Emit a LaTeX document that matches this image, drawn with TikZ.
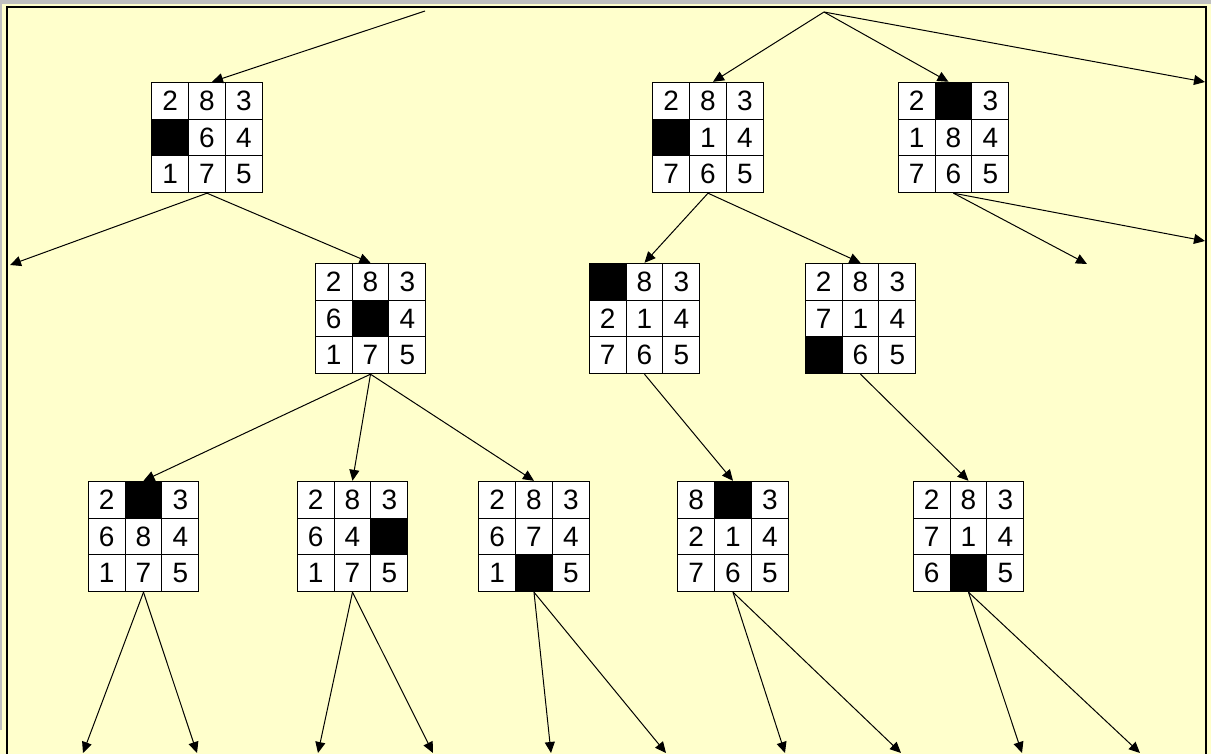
\documentclass[tikz,border=0pt]{standalone}
\usepackage{fontspec}
\setmainfont{Liberation Sans}
\usetikzlibrary{matrix,arrows.meta}
\definecolor{bgyellow}{HTML}{FFFFCC}
\definecolor{framegray}{HTML}{C0C0C0}
\begin{document}
\begin{tikzpicture}[x=1pt,y=-1pt,
  cell/.style={draw=black, line width=1pt, fill=white, minimum size=36.8pt, inner sep=0pt,
    font=\fontsize{28}{32}\selectfont, anchor=center},
  blank/.style={fill=black},
  board/.style={matrix of nodes, nodes={cell}, nodes in empty cells,
    column sep=-1pt, row sep=-1pt, inner sep=0pt, outer sep=0pt},
  edge/.style={draw=black, line width=1pt, -{Triangle[length=11pt,width=10pt]}}]
\useasboundingbox (0,0) rectangle (1211,754);
\fill[bgyellow] (0,0) rectangle (1211,754);
\fill[framegray] (0,0) rectangle (1211,4);
\fill[framegray] (0,0) rectangle (2,730);
\draw[line width=1.3pt] (7,770) -- (7,7) -- (1206,7) -- (1206,770);

% boards
\matrix (A) [board] at (207,137.5) {2 & 8 & 3\\ |[blank]| & 6 & 4\\ 1 & 7 & 5\\};
\matrix (B) [board] at (708,137.5) {2 & 8 & 3\\ |[blank]| & 1 & 4\\ 7 & 6 & 5\\};
\matrix (C) [board] at (953.5,137.5) {2 & |[blank]| & 3\\ 1 & 8 & 4\\ 7 & 6 & 5\\};
\matrix (F) [board] at (370.5,318.5) {2 & 8 & 3\\ 6 & |[blank]| & 4\\ 1 & 7 & 5\\};
\matrix (D) [board] at (644.5,318.5) {|[blank]| & 8 & 3\\ 2 & 1 & 4\\ 7 & 6 & 5\\};
\matrix (E) [board] at (860.5,318.5) {2 & 8 & 3\\ 7 & 1 & 4\\ |[blank]| & 6 & 5\\};
\matrix (G) [board] at (143.5,536.5) {2 & |[blank]| & 3\\ 6 & 8 & 4\\ 1 & 7 & 5\\};
\matrix (H) [board] at (352.5,536.5) {2 & 8 & 3\\ 6 & 4 & |[blank]|\\ 1 & 7 & 5\\};
\matrix (I) [board] at (534,536.5) {2 & 8 & 3\\ 6 & 7 & 4\\ 1 & |[blank]| & 5\\};
\matrix (J) [board] at (733,536.5) {8 & |[blank]| & 3\\ 2 & 1 & 4\\ 7 & 6 & 5\\};
\matrix (K) [board] at (968.5,536.5) {2 & 8 & 3\\ 7 & 1 & 4\\ 6 & |[blank]| & 5\\};

% free ends
\coordinate (t1) at (425,11);
\coordinate (t2) at (824,12);
\coordinate (r1) at (1205,82);
\coordinate (l1) at (10,265);
\coordinate (c1) at (1087,264);
\coordinate (c2) at (1205,241);
\coordinate (g1) at (83,753);
\coordinate (g2) at (197,753);
\coordinate (h1) at (318,753);
\coordinate (h2) at (433,753);
\coordinate (i1) at (551,753);
\coordinate (i2) at (666,753);
\coordinate (j1) at (785,753);
\coordinate (j2) at (901,753);
\coordinate (k1) at (1022,753);
\coordinate (k2) at (1140,753);

% connectors
\draw[edge] (t1) -- ([xshift=5pt]A.north);
\draw[edge] (t2) -- ([xshift=5pt]B.north);
\draw[edge] (t2) -- ([xshift=-5pt]C.north);
\draw[edge] (t2) -- (r1);
\draw[edge] (A.south) -- (l1);
\draw[edge] (A.south) -- (F.north);
\draw[edge] (B.south) -- (D.north);
\draw[edge] (B.south) -- (E.north);
\draw[edge] (C.south) -- (c1);
\draw[edge] (C.south) -- (c2);
\draw[edge] (F.south) -- (G.north);
\draw[edge] (F.south) -- (H.north);
\draw[edge] (F.south) -- (I.north);
\draw[edge] (D.south) -- (J.north);
\draw[edge] (E.south) -- (K.north);
\draw[edge] (G.south) -- (g1);
\draw[edge] (G.south) -- (g2);
\draw[edge] (H.south) -- (h1);
\draw[edge] (H.south) -- (h2);
\draw[edge] (I.south) -- (i1);
\draw[edge] (I.south) -- (i2);
\draw[edge] (J.south) -- (j1);
\draw[edge] (J.south) -- (j2);
\draw[edge] (K.south) -- (k1);
\draw[edge] (K.south) -- (k2);
\end{tikzpicture}
\end{document}
